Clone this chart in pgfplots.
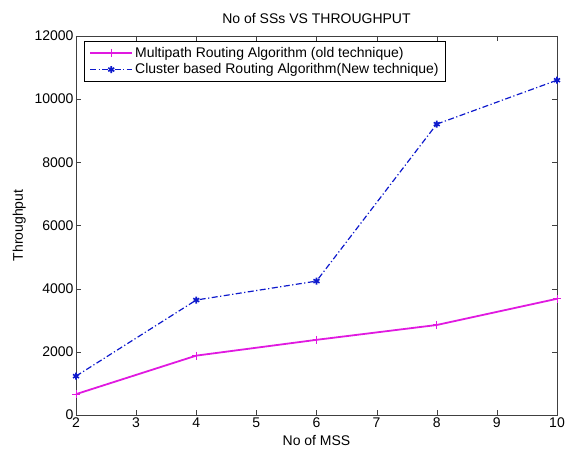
\documentclass[border=0pt]{standalone}
\usepackage{fontspec}
\setmainfont{Liberation Sans}
\usepackage{pgfplots}
\pgfplotsset{compat=1.18}
\definecolor{mpink}{rgb}{0.88,0.1,0.88}
\definecolor{mblue}{rgb}{0.05,0.1,0.8}
\begin{document}
\begin{tikzpicture}
\useasboundingbox (-76bp,-36bp) rectangle (490bp,415bp);
\begin{axis}[
    scale only axis,
    width=481bp, height=379bp,
    xmin=2, xmax=10, ymin=0, ymax=12000,
    xtick={2,3,...,10},
    ytick={0,2000,...,12000},
    scaled y ticks=false,
    /pgf/number format/assume math mode=true,
    yticklabel style={/pgf/number format/1000 sep={}, xshift=1bp},
    xticklabel style={yshift=1bp},
    tick align=inside,
    tick pos=both,
    major tick length=5bp,
    axis line style={black!75},
    tick style={black!75},
    tick label style={font=\fontsize{14bp}{16bp}\selectfont},
    label style={font=\fontsize{14bp}{16bp}\selectfont},
    title style={font=\fontsize{14bp}{16bp}\selectfont, yshift=3bp},
    title={No of SSs VS THROUGHPUT},
    xlabel={No of MSS},
    ylabel={Throughput},
    xlabel style={yshift=-1bp},
    ylabel style={yshift=2bp},
    legend style={at={(0.017,0.987)}, anchor=north west, draw=black, fill=white,
        font=\fontsize{14bp}{16bp}\selectfont, inner xsep=5pt, inner ysep=4pt, row sep=1pt},
    legend cell align=left,
    legend image code/.code={
        \draw[mark repeat=2, mark phase=2] plot coordinates {(0bp,0bp) (21bp,0bp) (42bp,0bp)};
    },
]
\addplot[mpink, line width=1.8pt, mark=+, mark size=4pt, mark options={line width=1pt}] coordinates {
    (2,660) (4,1880) (6,2380) (8,2850) (10,3680)
};
\addplot[mblue, line width=1.2pt, dash pattern=on 6pt off 2.5pt on 1.2pt off 2.5pt, mark=asterisk, mark size=3.5pt, mark options={solid, line width=1.6pt}] coordinates {
    (2,1230) (4,3640) (6,4240) (8,9210) (10,10600)
};
\legend{Multipath Routing Algorithm (old technique), Cluster based Routing Algorithm(New technique)}
\end{axis}
\end{tikzpicture}
\end{document}
